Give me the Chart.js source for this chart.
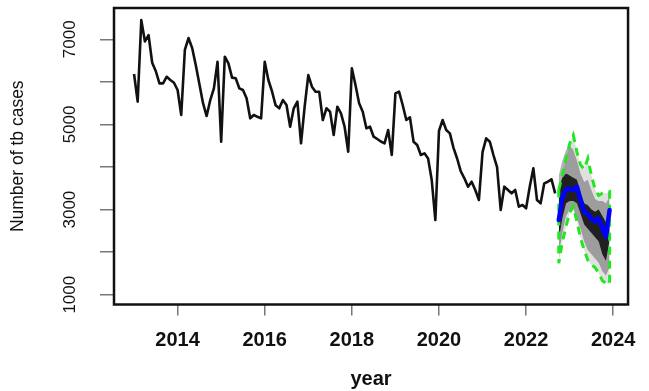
<!DOCTYPE html>
<html>
<head>
  <title>TB cases forecast</title>
  <script src="https://cdn.jsdelivr.net/npm/chart.js@4.4.1/dist/chart.umd.min.js"></script>
  <style>
    body { margin: 0; background: #fff; }
  </style>
</head>
<body>
  <canvas id="myChart" width="649" height="391"></canvas>
  <script>
    // monthly tb cases, Jan 2013 - Sep 2022
    const startYear = 2013;
    const tbCases = [
      6185, 5535, 7450, 6950, 7100, 6450, 6250, 5966, 5966, 6121, 6044, 5980,
      5809, 5222, 6750, 7030, 6800, 6396, 5950, 5500, 5198, 5574, 5849, 6474,
      4595, 6592, 6436, 6100, 6084, 5849, 5809, 5614, 5144, 5222, 5180, 5144,
      6474, 6044, 5780, 5450, 5379, 5574, 5457, 4947, 5379, 5535, 4557, 5417,
      6161, 5887, 5770, 5770, 5104, 5379, 5300, 4752, 5417, 5262, 4947, 4360,
      6320, 5927, 5497, 5300, 4909, 4947, 4712, 4658, 4600, 4557, 4869, 4282,
      5731, 5770, 5457, 5104, 5167, 4595, 4517, 4282, 4321, 4200, 3695, 2755,
      4850, 5104, 4869, 4791, 4450, 4200, 3900, 3735, 3538, 3655, 3460, 3225,
      4350, 4674, 4595, 4282, 4000, 2990, 3538, 3460, 3382, 3460, 3068, 3108,
      3030, 3538, 3970, 3225, 3147, 3617, 3655, 3711, 3382
    ];

    // forecast, Oct 2022 - Dec 2023
    const fcStart = 2022.75;
    const fcMean  = [2755, 3300, 3480, 3490, 3460, 3538, 3225, 2950, 2900, 2780, 2720, 2795, 2560, 2363, 2990];
    const fcUpper = [3460, 3810, 4200, 4550, 4750, 4350, 4050, 3950, 4200, 3800, 3480, 3330, 3382, 3390, 3420];
    const fcLower = [1738, 2250, 2600, 2930, 3080, 2720, 2325, 2050, 1813, 1700, 1640, 1510, 1330, 1270, 1250];
    // shading of the fan
    const midHi  = [3800, 4150, 4400, 4500, 4400, 4150, 3850, 3650, 3700, 3450, 3250, 3200, 3200, 3150, 3300];
    const midLo  = [1950, 2450, 2850, 3000, 3000, 2800, 2550, 2250, 2050, 1950, 1850, 1750, 1550, 1450, 1650];
    const coreHi = [3500, 3750, 3850, 3800, 3750, 3700, 3400, 3150, 3100, 3000, 2950, 3000, 2850, 2700, 3150];
    const coreLo = [2300, 2800, 3150, 3200, 3200, 3150, 2900, 2650, 2550, 2450, 2350, 2250, 1950, 1800, 2300];

    const xTicks = [2014, 2016, 2018, 2020, 2022, 2024];
    const yTicks = [1000, 2000, 3000, 4000, 5000, 6000, 7000];
    const yTickLabels = ['1000', '', '3000', '', '5000', '', '7000'];

    function toPoints(values, start) {
      return values.map((v, k) => ({ x: start + k / 12, y: v }));
    }

    const bounds = toPoints(fcUpper, fcStart).concat(toPoints(fcLower, fcStart).reverse());
    bounds.push(bounds[0]);

    const none = 'rgba(0,0,0,0)';
    function band(values, fillColor) {
      return {
        data: toPoints(values, fcStart),
        borderColor: none,
        borderWidth: 1,
        pointRadius: 0,
        fill: fillColor ? '-1' : false,
        backgroundColor: fillColor || none
      };
    }

    const framePlugin = {
      id: 'frame',
      afterDatasetsDraw(chart) {
        const { ctx, chartArea: a } = chart;
        ctx.save();
        ctx.strokeStyle = '#111';
        ctx.lineWidth = 2.5;
        ctx.strokeRect(a.left, a.top, a.right - a.left, a.bottom - a.top);
        ctx.restore();
      }
    };

    var ctx = document.getElementById('myChart').getContext('2d');
    var myChart = new Chart(ctx, {
      type: 'line',
      data: {
        datasets: [
          {
            label: 'forecast',
            data: toPoints(fcMean, fcStart),
            borderColor: '#0000ff',
            borderWidth: 4.5,
            borderCapStyle: 'round',
            borderJoinStyle: 'round',
            pointRadius: 0,
            fill: false
          },
          {
            label: 'bounds',
            data: bounds,
            borderColor: '#22e622',
            borderWidth: 3,
            borderDash: [8, 6],
            pointRadius: 0,
            fill: false
          },
          {
            label: 'tb cases',
            data: toPoints(tbCases, startYear),
            borderColor: '#111',
            borderWidth: 2.6,
            borderJoinStyle: 'round',
            pointRadius: 0,
            fill: false
          },
          band(coreHi),
          band(coreLo, 'rgba(0,0,0,0.8)'),
          band(midHi),
          band(midLo, 'rgba(0,0,0,0.3)'),
          band(fcUpper),
          band(fcLower, 'rgba(0,0,0,0.12)')
        ]
      },
      options: {
        responsive: false,
        animation: false,
        events: [],
        layout: { padding: { left: 0, right: 18, top: 8, bottom: 0 } },
        plugins: {
          legend: { display: false },
          tooltip: { enabled: false }
        },
        scales: {
          x: {
            type: 'linear',
            position: 'bottom',
            min: 2012.54,
            max: 2024.34,
            afterBuildTicks: scale => { scale.ticks = xTicks.map(v => ({ value: v })); },
            afterFit: scale => { scale.height = 86.5; },
            ticks: {
              autoSkip: false,
              maxRotation: 0,
              padding: 13,
              color: '#111',
              font: { family: 'Liberation Sans', size: 20, weight: 'bold' },
              callback: value => String(value)
            },
            grid: { drawOnChartArea: false, tickLength: 11, color: '#777', lineWidth: 1.5 },
            border: { display: false },
            title: {
              display: true,
              text: 'year',
              color: '#111',
              font: { family: 'Liberation Sans', size: 20, weight: 'bold' },
              padding: { top: 1, bottom: 0 }
            }
          },
          y: {
            type: 'linear',
            position: 'left',
            min: 770,
            max: 7736,
            afterBuildTicks: scale => { scale.ticks = yTicks.map(v => ({ value: v })); },
            afterFit: scale => {
              scale.width = 114;
              scale.paddingTop = 0;
              scale.paddingBottom = 0;
            },
            ticks: {
              autoSkip: false,
              minRotation: 90,
              maxRotation: 90,
              crossAlign: 'center',
              padding: 11,
              color: '#111',
              font: { family: 'Liberation Sans', size: 17 },
              callback: (value, index) => yTickLabels[index]
            },
            grid: { drawOnChartArea: false, tickLength: 14, color: '#777', lineWidth: 1.5 },
            border: { display: false },
            title: {
              display: true,
              text: 'Number of tb cases',
              color: '#111',
              font: { family: 'Liberation Sans', size: 17.5 },
              padding: { top: 7.5, bottom: 0 }
            }
          }
        }
      },
      plugins: [framePlugin]
    });
  </script>
</body>
</html>
